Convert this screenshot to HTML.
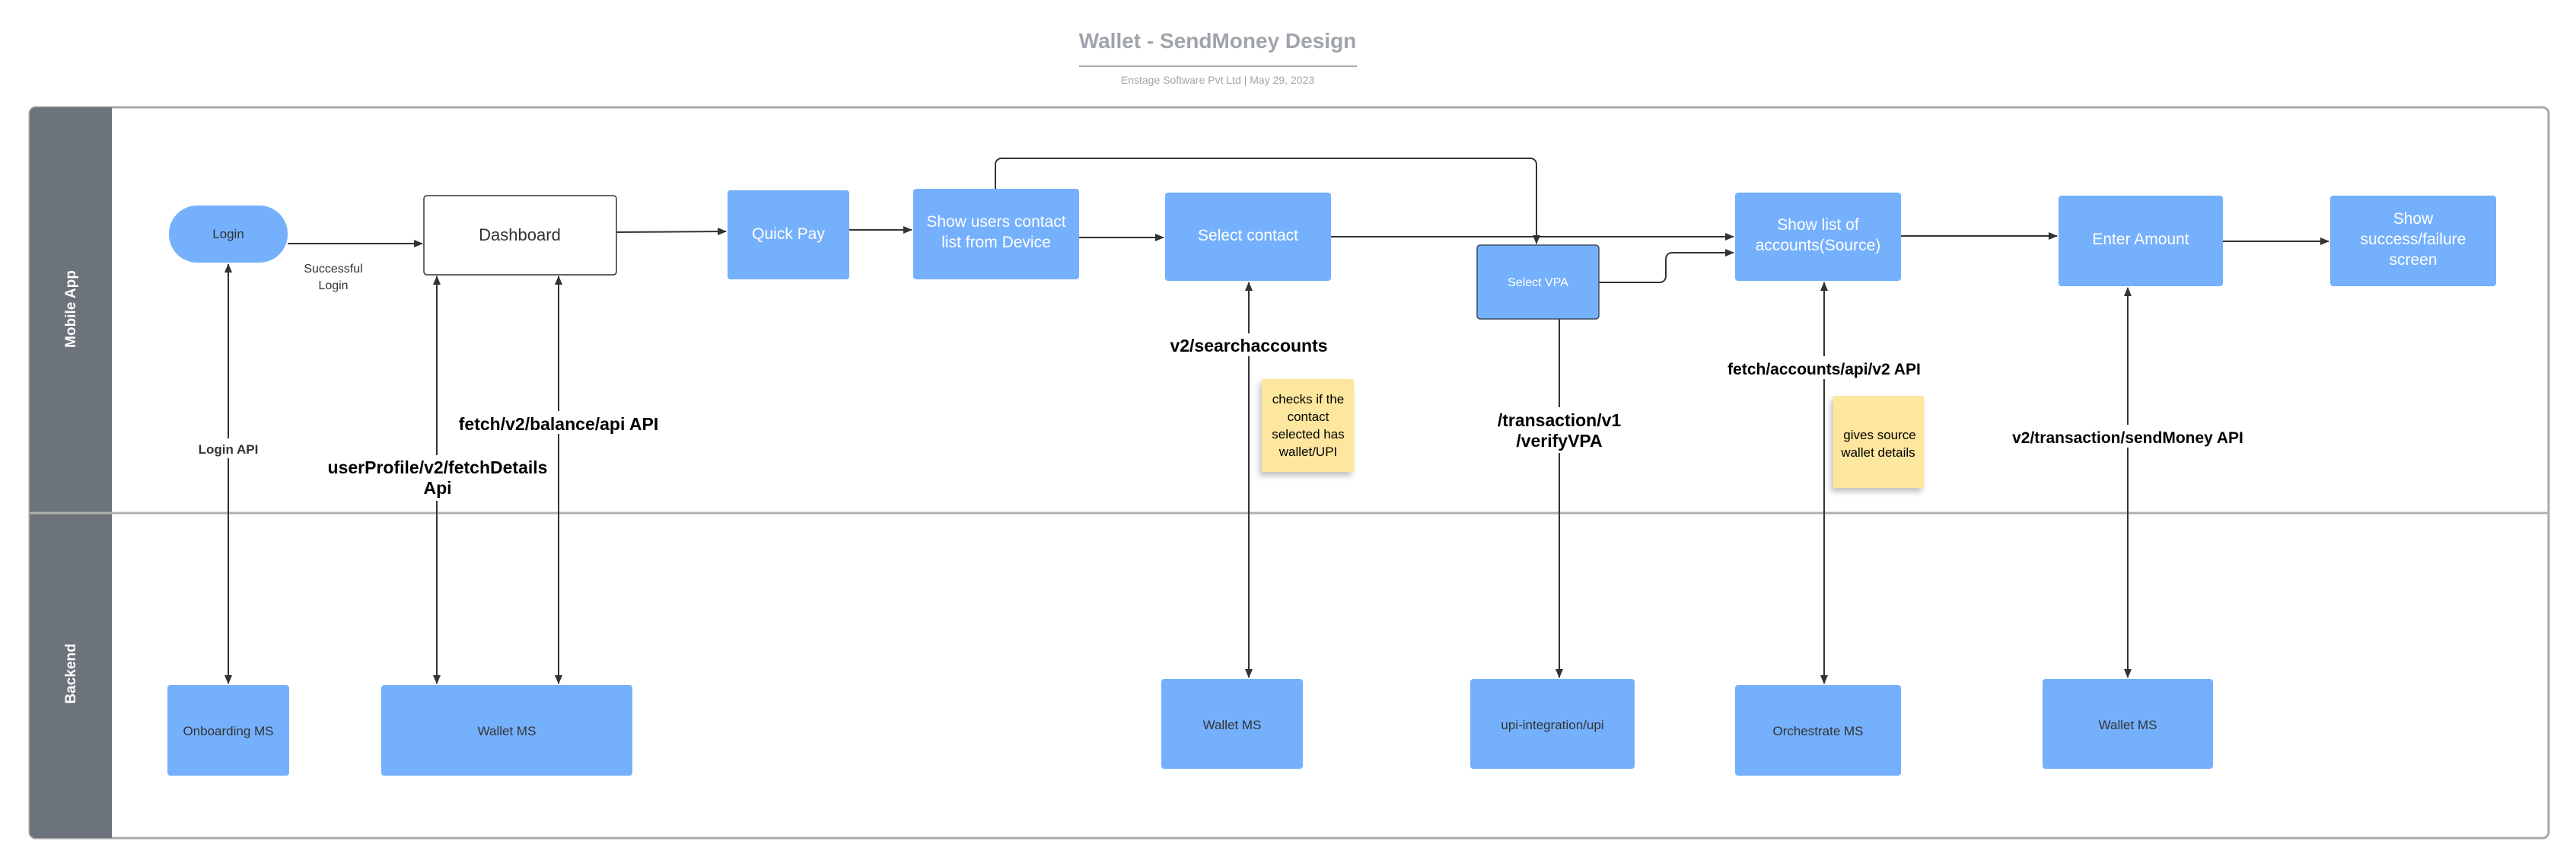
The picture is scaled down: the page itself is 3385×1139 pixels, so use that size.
<!DOCTYPE html>
<html><head><meta charset="utf-8"><style>
html,body{margin:0;padding:0;background:#fff;}
svg{display:block;font-family:"Liberation Sans",sans-serif;}
</style></head><body>
<svg width="3385" height="1139" viewBox="0 0 3385 1139" xmlns="http://www.w3.org/2000/svg">
<defs>
<marker id="a" markerWidth="12" markerHeight="12" refX="11" refY="6" orient="auto-start-reverse" markerUnits="userSpaceOnUse"><path d="M0,1 L12,6 L0,11 z" fill="#333"/></marker>
<filter id="sh" x="-20%" y="-20%" width="150%" height="150%"><feDropShadow dx="-3" dy="5" stdDeviation="4" flood-color="#000" flood-opacity="0.25"/></filter>
</defs>
<!-- title -->
<text x="1600" y="63" text-anchor="middle" font-size="28" font-weight="bold" fill="#a0a4ab">Wallet - SendMoney Design</text>
<line x1="1418" y1="87" x2="1783" y2="87" stroke="#a8acb2" stroke-width="2"/>
<text x="1600" y="110" text-anchor="middle" font-size="14" fill="#a0a4ab">Enstage Software Pvt Ltd  |  May 29, 2023</text>
<!-- frame -->
<rect x="39" y="141" width="3310" height="960" rx="8" fill="#fff" stroke="#a8a8a8" stroke-width="3"/>
<path d="M47,141 H147 V1101 H47 a8,8 0 0 1 -8,-8 V149 a8,8 0 0 1 8,-8z" fill="#6d737b"/>
<line x1="39" y1="674" x2="3349" y2="674" stroke="#b0b0b0" stroke-width="3"/>
<text transform="translate(99,406) rotate(-90)" text-anchor="middle" font-size="19" font-weight="bold" fill="#fff">Mobile App</text>
<text transform="translate(99,885) rotate(-90)" text-anchor="middle" font-size="19" font-weight="bold" fill="#fff">Backend</text>
<!-- connectors -->
<g stroke="#333" stroke-width="2" fill="none">
<line x1="378" y1="320" x2="555" y2="320" marker-end="url(#a)"/>
<line x1="810" y1="305" x2="954" y2="304" marker-end="url(#a)"/>
<line x1="1116" y1="302" x2="1198" y2="302" marker-end="url(#a)"/>
<line x1="1418" y1="312" x2="1529" y2="312" marker-end="url(#a)"/>
<line x1="1749" y1="311" x2="2278" y2="311" marker-end="url(#a)"/>
<path d="M1308,248 V216 a8,8 0 0 1 8,-8 H2011 a8,8 0 0 1 8,8 V320" marker-end="url(#a)"/>
<path d="M2101,371 H2181 a8,8 0 0 0 8,-8 V340 a8,8 0 0 1 8,-8 H2278" marker-end="url(#a)"/>
<line x1="2498" y1="310" x2="2703" y2="310" marker-end="url(#a)"/>
<line x1="2921" y1="317" x2="3060" y2="317" marker-end="url(#a)"/>
<line x1="300" y1="347" x2="300" y2="898" marker-start="url(#a)" marker-end="url(#a)"/>
<line x1="574" y1="363" x2="574" y2="898" marker-start="url(#a)" marker-end="url(#a)"/>
<line x1="734" y1="363" x2="734" y2="898" marker-start="url(#a)" marker-end="url(#a)"/>
<line x1="1641" y1="371" x2="1641" y2="890" marker-start="url(#a)" marker-end="url(#a)"/>
<line x1="2049" y1="419" x2="2049" y2="890" marker-end="url(#a)"/>
<line x1="2397" y1="371" x2="2397" y2="898" marker-start="url(#a)" marker-end="url(#a)"/>
<line x1="2796" y1="378" x2="2796" y2="890" marker-start="url(#a)" marker-end="url(#a)"/>
</g>
<!-- nodes -->
<g fill="#75b0fc">
<rect x="222" y="270" width="156" height="75" rx="37"/>
<rect x="956" y="250" width="160" height="117" rx="4"/>
<rect x="1200" y="248" width="218" height="119" rx="4"/>
<rect x="1531" y="253" width="218" height="116" rx="4"/>
<rect x="1941" y="322" width="160" height="97" rx="4" stroke="#3c4a5c" stroke-width="1.5"/>
<rect x="2280" y="253" width="218" height="116" rx="4"/>
<rect x="2705" y="257" width="216" height="119" rx="4"/>
<rect x="3062" y="257" width="218" height="119" rx="4"/>
<rect x="220" y="900" width="160" height="119" rx="4"/>
<rect x="501" y="900" width="330" height="119" rx="4"/>
<rect x="1526" y="892" width="186" height="118" rx="4"/>
<rect x="1932" y="892" width="216" height="118" rx="4"/>
<rect x="2280" y="900" width="218" height="119" rx="4"/>
<rect x="2684" y="892" width="224" height="118" rx="4"/>
</g>
<rect x="557" y="257" width="253" height="104" rx="4" fill="#fff" stroke="#333" stroke-width="1.5"/>
<!-- node text -->
<g text-anchor="middle" fill="#fff" font-size="21">
<text x="300" y="313" font-size="17" fill="#333">Login</text>
<text x="683" y="316" font-size="22" fill="#333">Dashboard</text>
<text x="1036" y="314">Quick Pay</text>
<text x="1309" y="298">Show  users contact</text>
<text x="1309" y="325">list from Device</text>
<text x="1640" y="316">Select contact</text>
<text x="2021" y="376" font-size="16">Select VPA</text>
<text x="2389" y="302">Show list of</text>
<text x="2389" y="329">accounts(Source)</text>
<text x="2813" y="321">Enter Amount</text>
<text x="3171" y="294">Show</text>
<text x="3171" y="321">success/failure</text>
<text x="3171" y="348">screen</text>
</g>
<g text-anchor="middle" fill="#333" font-size="17">
<text x="300" y="966">Onboarding MS</text>
<text x="666" y="966">Wallet MS</text>
<text x="1619" y="958">Wallet MS</text>
<text x="2040" y="958">upi-integration/upi</text>
<text x="2389" y="966">Orchestrate MS</text>
<text x="2796" y="958">Wallet MS</text>
<text x="438" y="358" font-size="16">Successful</text>
<text x="438" y="380" font-size="16">Login</text>
</g>
<!-- edge labels -->
<g text-anchor="middle" fill="#000" font-weight="bold">
<rect x="250" y="576" width="100" height="26" fill="#fff"/>
<text x="300" y="596" font-size="17" fill="#333">Login API</text>
<rect x="430" y="598" width="290" height="60" fill="#fff"/>
<text x="575" y="622" font-size="23">userProfile/v2/fetchDetails</text>
<text x="575" y="649" font-size="23">Api</text>
<rect x="600" y="540" width="268" height="30" fill="#fff"/>
<text x="734" y="565" font-size="23">fetch/v2/balance/api API</text>
<rect x="1520" y="438" width="242" height="30" fill="#fff"/>
<text x="1641" y="462" font-size="23">v2/searchaccounts</text>
<rect x="1960" y="535" width="178" height="60" fill="#fff"/>
<text x="2049" y="560" font-size="23">/transaction/v1</text>
<text x="2049" y="587" font-size="23">/verifyVPA</text>
<rect x="2268" y="468" width="258" height="30" fill="#fff"/>
<text x="2397" y="492" font-size="21">fetch/accounts/api/v2 API</text>
<rect x="2630" y="558" width="332" height="30" fill="#fff"/>
<text x="2796" y="582" font-size="21">v2/transaction/sendMoney API</text>
</g>
<!-- sticky notes -->
<rect x="1658" y="498" width="121" height="122" fill="#fde79e" filter="url(#sh)"/>
<g text-anchor="middle" font-size="17" fill="#000">
<text x="1719" y="530">checks if the</text>
<text x="1719" y="553">contact</text>
<text x="1719" y="576">selected has</text>
<text x="1719" y="599">wallet/UPI</text>
</g>
<rect x="2409" y="520" width="119" height="121" fill="#fde79e" filter="url(#sh)"/>
<g text-anchor="middle" font-size="17" fill="#000">
<text x="2470" y="577">gives source</text>
<text x="2468" y="600">wallet details</text>
</g>
</svg>
</body></html>
